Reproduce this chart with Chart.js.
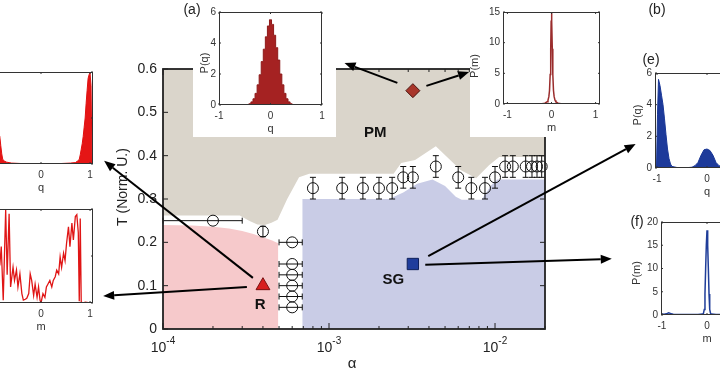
<!DOCTYPE html>
<html>
<head>
<meta charset="utf-8">
<script src="https://cdn.jsdelivr.net/npm/chart.js@4.4.1/dist/chart.umd.min.js"></script>
<style>
  html, body { margin: 0; padding: 0; background: #fff; }
  #wrap { position: relative; width: 720px; height: 372px; overflow: hidden; }
  canvas { position: absolute; }
</style>
</head>
<body>
<div id="wrap">
  <canvas id="main" width="720" height="372" style="left:0;top:0"></canvas>
  <canvas id="insetA" width="158" height="137" style="left:178px;top:0"></canvas>
  <canvas id="insetB" width="140" height="137" style="left:470px;top:0"></canvas>
  <canvas id="insetC" width="120" height="140" style="left:-20px;top:60px"></canvas>
  <canvas id="insetD" width="120" height="145" style="left:-20px;top:195px"></canvas>
  <canvas id="insetE" width="145" height="155" style="left:620px;top:45px"></canvas>
  <canvas id="insetF" width="145" height="145" style="left:620px;top:205px"></canvas>
</div>
<script>
// ---- phase diagram: measured transition points ----
const alphaPts = [2e-4, 4e-4, 6e-4, 6e-4, 6e-4, 6e-4, 6e-4, 6e-4,
  8e-4, 1.2e-3, 1.6e-3, 2e-3, 2.4e-3, 2.8e-3, 3.2e-3, 4.4e-3, 6e-3, 7.2e-3, 8.7e-3,
  1e-2, 1.15e-2, 1.28e-2, 1.53e-2, 1.67e-2, 1.79e-2, 1.91e-2];
const tPts = [0.25, 0.225, 0.2, 0.15, 0.125, 0.1, 0.075, 0.05,
  0.325, 0.325, 0.325, 0.325, 0.325, 0.35, 0.35, 0.375, 0.35, 0.325, 0.325,
  0.35, 0.375, 0.375, 0.375, 0.375, 0.375, 0.375];
const tErr = [0, 0.012, 0, 0, 0, 0, 0, 0,
  0.025, 0.025, 0.025, 0.025, 0.025, 0.025, 0.025, 0.025, 0.025, 0.025, 0.025,
  0.025, 0.025, 0.025, 0.025, 0.025, 0.025, 0.025];
const alphaLo = [1e-4, null, 5e-4, 5e-4, 5e-4, 5e-4, 5e-4, 5e-4,
  null, null, null, null, null, null, null, null, null, null, null,
  null, null, null, null, null, null, null];
const alphaHi = [3e-4, null, 6.9e-4, 6.9e-4, 6.9e-4, 6.9e-4, 6.9e-4, 6.9e-4,
  null, null, null, null, null, null, null, null, null, null, null,
  null, null, null, null, null, null, null];

// phase regions
const pmAlpha = [1e-4, 2.9e-4, 3.3e-4, 3.7e-4, 4.1e-4, 4.5e-4, 4.9e-4, 5.6e-4, 6.6e-4, 7.6e-4,
  2.45e-3, 2.72e-3, 3.3e-3, 4.4e-3, 6.2e-3, 7.7e-3, 9.2e-3, 1.06e-2, 2e-2];
const pmT = [0.262, 0.262, 0.25, 0.241, 0.24, 0.245, 0.252, 0.30, 0.35, 0.358,
  0.358, 0.383, 0.39, 0.422, 0.367, 0.348, 0.378, 0.397, 0.397];
const rAlpha = [1e-4, 1.5e-4, 2e-4, 2.5e-4, 3e-4, 3.5e-4, 4e-4, 4.5e-4, 4.95e-4, 4.95e-4];
const rT = [0.24, 0.239, 0.236, 0.232, 0.226, 0.219, 0.212, 0.205, 0.198, 0];
const sgAlpha = [6.9e-4, 6.9e-4, 2.3e-3, 2.8e-3, 3.4e-3, 4.2e-3, 5.0e-3, 5.8e-3, 6.3e-3, 8.3e-3, 9.4e-3, 1.03e-2, 2e-2];
const sgT = [0, 0.3, 0.3, 0.315, 0.335, 0.345, 0.33, 0.305, 0.298, 0.298, 0.33, 0.345, 0.345];

// the three state markers
const pmState = [3.2e-3, 0.55];
const rState = [4e-4, 0.1];
const sgState = [3.2e-3, 0.15];

// axis ticks
const yTicks = [0, 0.1, 0.2, 0.3, 0.4, 0.5, 0.6];
const yTickLabels = ['0', '0.1', '0.2', '0.3', '0.4', '0.5', '0.6'];
const xMajor = [1e-4, 1e-3, 1e-2];
const xMajorExp = ['-4', '-3', '-2'];
const xMinor = [2e-4, 3e-4, 4e-4, 5e-4, 6e-4, 7e-4, 8e-4, 9e-4,
  2e-3, 3e-3, 4e-3, 5e-3, 6e-3, 7e-3, 8e-3, 9e-3, 2e-2];

// ---- inset distributions ----
const aQ = [-1, -0.48, -0.44, -0.40, -0.36, -0.32, -0.28, -0.24, -0.20, -0.16, -0.12, -0.08, -0.04, 0,
  0.04, 0.08, 0.12, 0.16, 0.20, 0.24, 0.28, 0.32, 0.36, 0.40, 0.44, 0.48, 1];
const aP = [0, 0, 0.03, 0.08, 0.2, 0.4, 0.75, 1.3, 1.95, 2.8, 3.6, 4.4, 5.1, 5.5,
  5.2, 4.5, 3.7, 2.9, 2.0, 1.3, 0.75, 0.4, 0.2, 0.08, 0.03, 0, 0];

const bM = [-1.1, -0.5, -0.3, -0.2, -0.15, -0.1, -0.08, -0.06, -0.045, -0.03, -0.018, -0.008, 0,
  0.008, 0.018, 0.03, 0.045, 0.06, 0.08, 0.1, 0.15, 0.2, 0.3, 0.5, 1.1];
const bP = [0.02, 0.03, 0.05, 0.08, 0.14, 0.35, 0.6, 1.2, 2.2, 4.8, 9, 13.5, 15.5,
  13.5, 9, 4.8, 2.2, 1.2, 0.6, 0.35, 0.14, 0.08, 0.05, 0.03, 0.02];

const cQ = [-1.06, -1.04, -1.02, -1.0, -0.98, -0.96, -0.94, -0.92, -0.90, -0.88, -0.86, -0.84, -0.82, -0.80,
  -0.78, -0.74, -0.70, -0.60, -0.40, 0, 0.40, 0.60, 0.70, 0.74, 0.78, 0.80, 0.82, 0.84, 0.86, 0.88,
  0.90, 0.92, 0.94, 0.96, 0.98, 1.0, 1.02, 1.04, 1.06];
const cP = [0, 0.02, 0.7, 0.98, 0.96, 0.86, 0.74, 0.62, 0.5, 0.4, 0.32, 0.3, 0.2, 0.11,
  0.05, 0.03, 0.02, 0.01, 0.005, 0.005, 0.005, 0.01, 0.015, 0.03, 0.05, 0.1, 0.16, 0.22, 0.3, 0.4,
  0.5, 0.66, 0.8, 0.93, 0.97, 0.99, 0.85, 0, 0];

const dM = [-1.06, -1.0, -0.96, -0.92, -0.88, -0.84, -0.81, -0.77, -0.72, -0.69, -0.65, -0.62, -0.57, -0.54, -0.5,
  -0.47, -0.43, -0.39, -0.36, -0.32, -0.29, -0.25, -0.22, -0.19, -0.15, -0.12, -0.08, -0.05, -0.02, 0,
  0.04, 0.08, 0.11, 0.14, 0.18, 0.22, 0.25, 0.29, 0.32, 0.36, 0.39, 0.42, 0.46, 0.49, 0.52,
  0.56, 0.59, 0.63, 0.66, 0.7, 0.73, 0.76, 0.78, 0.8, 0.82, 0.86, 0.9, 1.0, 1.06];
const dP = [0, 0.1, 0.6, 0.2, 0.7, 0.4, 0.6, 0.03, 0.99, 0.3, 0.95, 0.17, 0.38, 0.24, 0.35,
  0.17, 0.31, 0.1, 0.03, 0.04, 0.05, 0.1, 0.31, 0.24, 0.08, 0.2, 0.06, 0.17, 0.03, 0,
  0.1, 0.06, 0.17, 0.2, 0.24, 0.17, 0.24, 0.28, 0.35, 0.31, 0.49, 0.38, 0.53, 0.45, 0.63,
  0.81, 0.6, 0.85, 0.67, 0.92, 0.94, 0.75, 0.02, 0.9, 0.01, 0, 0.01, 0, 0];

const eQ = [-1.04, -1.01, -0.99, -0.97, -0.94, -0.91, -0.88, -0.85, -0.82, -0.79, -0.76, -0.73, -0.70, -0.6, -0.4,
  -0.3, -0.24, -0.18, -0.12, -0.06, 0, 0.06, 0.12, 0.18, 0.24, 0.3,
  0.4, 0.6, 0.7, 0.73, 0.76, 0.79, 0.82, 0.85, 0.88, 0.91, 0.94, 0.97, 0.99, 1.01, 1.04];
const eP = [0, 0, 3.4, 5.6, 5.2, 4.6, 4.0, 3.1, 2.1, 1.2, 0.6, 0.25, 0.1, 0.03, 0.02,
  0.05, 0.15, 0.35, 0.8, 1.15, 1.2, 1.1, 0.8, 0.35, 0.15, 0.05,
  0.02, 0.03, 0.1, 0.25, 0.6, 1.2, 2.1, 3.1, 4.0, 4.6, 5.2, 5.6, 3.4, 0, 0];

const fM = [-1.02, -0.95, -0.9, -0.85, -0.8, -0.75, -0.6, -0.4, -0.2, -0.1, -0.08, -0.06, -0.045, -0.03, -0.015, 0,
  0.015, 0.03, 0.045, 0.06, 0.08, 0.1, 0.2, 0.4, 0.6, 0.75, 0.8, 0.85, 0.9, 0.95, 1.02];
const fP = [0.2, 0.15, 0.25, 0.45, 0.3, 0.15, 0.1, 0.1, 0.12, 0.2, 0.3, 1.2, 4.5, 10, 15, 18.2,
  15, 10, 4.5, 1.2, 0.3, 0.2, 0.12, 0.1, 0.1, 0.15, 0.3, 0.45, 0.25, 0.15, 0.2];

const FONT = '"Liberation Sans", Arial, sans-serif';

// annotations on the phase diagram, in data coordinates (alpha, T)
const phaseLabels = [
  { text: 'PM', at: [1.9e-3, 0.453] },
  { text: 'R', at: [3.85e-4, 0.055] },
  { text: 'SG', at: [2.44e-3, 0.113] }
];
const arrows = [
  { from: [2.58e-3, 0.568], to: [1.24e-3, 0.614] },
  { from: [3.86e-3, 0.561], to: [6.98e-3, 0.593] },
  { from: [3.48e-4, 0.118], to: [4.42e-5, 0.388] },
  { from: [3.2e-4, 0.097], to: [4.36e-5, 0.076] },
  { from: [3.96e-3, 0.168], to: [7.03e-2, 0.427] },
  { from: [3.8e-3, 0.148], to: [5.05e-2, 0.162] }
];

function pairs(xs, ys) {
  return xs.map((v, i) => ({ x: v, y: ys[i] }));
}

function drawArrow(ctx, x1, y1, x2, y2) {
  const ang = Math.atan2(y2 - y1, x2 - x1);
  const len = 11, hw = 4.5;
  const bx = x2 - Math.cos(ang) * len, by = y2 - Math.sin(ang) * len;
  ctx.beginPath();
  ctx.moveTo(x1, y1);
  ctx.lineTo(bx, by);
  ctx.stroke();
  ctx.beginPath();
  ctx.moveTo(x2, y2);
  ctx.lineTo(bx + Math.sin(ang) * hw, by - Math.cos(ang) * hw);
  ctx.lineTo(bx - Math.sin(ang) * hw, by + Math.cos(ang) * hw);
  ctx.closePath();
  ctx.fill();
}

const phasePlugin = {
  id: 'phaseAxes',
  afterDatasetsDraw(chart) {
    const { ctx, scales: { x, y } } = chart;
    ctx.save();
    ctx.strokeStyle = '#111';
    ctx.lineWidth = 1;
    alphaPts.forEach((a, i) => {
      const px = x.getPixelForValue(a), py = y.getPixelForValue(tPts[i]);
      ctx.beginPath();
      if (tErr[i]) {
        const y1 = y.getPixelForValue(tPts[i] - tErr[i]);
        const y2 = y.getPixelForValue(tPts[i] + tErr[i]);
        ctx.moveTo(px, y1); ctx.lineTo(px, y2);
        ctx.moveTo(px - 3, y1); ctx.lineTo(px + 3, y1);
        ctx.moveTo(px - 3, y2); ctx.lineTo(px + 3, y2);
      }
      if (alphaLo[i] !== null) {
        const x1 = x.getPixelForValue(alphaLo[i]);
        const x2 = x.getPixelForValue(alphaHi[i]);
        ctx.moveTo(x1, py); ctx.lineTo(x2, py);
        ctx.moveTo(x1, py - 3); ctx.lineTo(x1, py + 3);
        ctx.moveTo(x2, py - 3); ctx.lineTo(x2, py + 3);
      }
      ctx.stroke();
    });
    ctx.restore();
  },
  afterDraw(chart) {
    const { ctx, chartArea: a, scales: { x, y } } = chart;
    ctx.save();
    // box
    ctx.strokeStyle = '#222';
    ctx.lineWidth = 1.8;
    ctx.strokeRect(a.left, a.top, a.right - a.left, a.bottom - a.top);
    // ticks, inward on all sides
    ctx.lineWidth = 1;
    ctx.beginPath();
    yTicks.forEach(v => {
      const py = y.getPixelForValue(v);
      ctx.moveTo(a.left, py); ctx.lineTo(a.left + 5, py);
      ctx.moveTo(a.right, py); ctx.lineTo(a.right - 5, py);
    });
    xMajor.forEach(v => {
      const px = x.getPixelForValue(v);
      ctx.moveTo(px, a.bottom); ctx.lineTo(px, a.bottom - 6);
      ctx.moveTo(px, a.top); ctx.lineTo(px, a.top + 6);
    });
    xMinor.forEach(v => {
      const px = x.getPixelForValue(v);
      ctx.moveTo(px, a.bottom); ctx.lineTo(px, a.bottom - 3);
      ctx.moveTo(px, a.top); ctx.lineTo(px, a.top + 3);
    });
    ctx.stroke();

    // tick labels
    ctx.fillStyle = '#222';
    ctx.font = '14px ' + FONT;
    ctx.textAlign = 'right';
    ctx.textBaseline = 'middle';
    yTicks.forEach((v, i) => ctx.fillText(yTickLabels[i], a.left - 6, y.getPixelForValue(v)));
    ctx.textAlign = 'left';
    ctx.textBaseline = 'alphabetic';
    xMajor.forEach((v, i) => {
      const px = x.getPixelForValue(v);
      ctx.font = '14px ' + FONT;
      const w1 = ctx.measureText('10').width;
      ctx.font = '10px ' + FONT;
      const w2 = ctx.measureText(xMajorExp[i]).width;
      const sx = px - (w1 + w2) / 2;
      ctx.font = '14px ' + FONT;
      ctx.fillText('10', sx, a.bottom + 23);
      ctx.font = '10px ' + FONT;
      ctx.fillText(xMajorExp[i], sx + w1, a.bottom + 15);
    });

    // axis titles
    ctx.textAlign = 'center';
    ctx.textBaseline = 'middle';
    ctx.font = '15px ' + FONT;
    ctx.fillText('\u03b1', (a.left + a.right) / 2 - 2, a.bottom + 35);
    ctx.save();
    ctx.translate(a.left - 40, 187);
    ctx.rotate(-Math.PI / 2);
    ctx.font = '14px ' + FONT;
    ctx.fillText('T (Norm. U.)', 0, 0);
    ctx.restore();

    // phase names
    ctx.font = 'bold 15px ' + FONT;
    ctx.fillStyle = '#111';
    phaseLabels.forEach(l => ctx.fillText(l.text, x.getPixelForValue(l.at[0]), y.getPixelForValue(l.at[1])));

    // panel letter of the off-screen panel
    ctx.font = '14px ' + FONT;
    ctx.fillStyle = '#222';
    ctx.fillText('(b)', 657, 10);

    // arrows to the insets
    ctx.strokeStyle = '#000';
    ctx.fillStyle = '#000';
    ctx.lineWidth = 2;
    arrows.forEach(ar => drawArrow(ctx,
      x.getPixelForValue(ar.from[0]), y.getPixelForValue(ar.from[1]),
      x.getPixelForValue(ar.to[0]), y.getPixelForValue(ar.to[1])));
    ctx.restore();
  }
};

new Chart(document.getElementById('main'), {
  type: 'line',
  data: {
    datasets: [
      { data: pairs(pmAlpha, pmT), fill: 'end', backgroundColor: '#dad5cb', borderWidth: 0, borderColor: 'rgba(0,0,0,0)', pointRadius: 0, order: 3 },
      { data: pairs(rAlpha, rT), fill: 'origin', backgroundColor: '#f6c9cb', borderWidth: 0, borderColor: 'rgba(0,0,0,0)', pointRadius: 0, order: 3 },
      { data: pairs(sgAlpha, sgT), fill: 'origin', backgroundColor: '#c9cce6', borderWidth: 0, borderColor: 'rgba(0,0,0,0)', pointRadius: 0, order: 3 },
      { data: pairs(alphaPts, tPts), showLine: false, pointStyle: 'circle', pointRadius: 5.5, pointBorderWidth: 1,
        pointBorderColor: '#111', pointBackgroundColor: 'rgba(0,0,0,0)', clip: false, order: 1 },
      { data: [{ x: pmState[0], y: pmState[1] }], showLine: false, pointStyle: 'rectRot', pointRadius: 7,
        pointBackgroundColor: '#a8362b', pointBorderColor: '#4a1510', pointBorderWidth: 1, order: 0 },
      { data: [{ x: rState[0], y: rState[1] }], showLine: false, pointStyle: 'triangle', pointRadius: 8,
        pointBackgroundColor: '#d81f1f', pointBorderColor: '#7a1010', pointBorderWidth: 1, order: 0 },
      { data: [{ x: sgState[0], y: sgState[1] }], showLine: false, pointStyle: 'rect', pointRadius: 8,
        pointBackgroundColor: '#1f3d9c', pointBorderColor: '#0d1f5a', pointBorderWidth: 1, order: 0 }
    ]
  },
  options: {
    responsive: false,
    animation: false,
    layout: { padding: { left: 163, top: 69, right: 175, bottom: 43 } },
    plugins: { legend: { display: false }, tooltip: { enabled: false } },
    scales: {
      x: { type: 'logarithmic', min: 1e-4, max: 2e-2, display: false },
      y: { type: 'linear', min: 0, max: 0.6, display: false }
    }
  },
  plugins: [phasePlugin]
});

function insetAxes(o) {
  return {
    id: 'insetAxes',
    beforeDraw(chart) {
      if (!o.bg) return;
      const ctx = chart.ctx;
      ctx.save();
      ctx.fillStyle = '#fff';
      ctx.fillRect(o.bgX || 0, 0, chart.width, chart.height);
      ctx.restore();
    },
    afterDraw(chart) {
      const { ctx, chartArea: a, scales: { x, y } } = chart;
      ctx.save();
      ctx.strokeStyle = '#333';
      ctx.lineWidth = 1;
      ctx.strokeRect(a.left + 0.5, a.top + 0.5, a.right - a.left - 1, a.bottom - a.top - 1);
      ctx.beginPath();
      o.xTicks.forEach(v => {
        const px = x.getPixelForValue(v);
        ctx.moveTo(px, a.bottom); ctx.lineTo(px, a.bottom - 2);
        ctx.moveTo(px, a.top); ctx.lineTo(px, a.top + 2);
      });
      o.yTicks.forEach(v => {
        const py = y.getPixelForValue(v);
        ctx.moveTo(a.left, py); ctx.lineTo(a.left + 2, py);
        ctx.moveTo(a.right, py); ctx.lineTo(a.right - 2, py);
      });
      ctx.stroke();

      ctx.fillStyle = '#333';
      ctx.font = '10px ' + FONT;
      ctx.textAlign = 'center';
      ctx.textBaseline = 'middle';
      o.xTicks.forEach(v => ctx.fillText(String(v), x.getPixelForValue(v), a.bottom + 11));
      ctx.font = '11px ' + FONT;
      ctx.fillText(o.xLabel, (a.left + a.right) / 2, a.bottom + 24);
      if (o.yLabels) {
        ctx.font = '10px ' + FONT;
        ctx.textAlign = 'right';
        o.yTicks.forEach(v => ctx.fillText(String(v), a.left - 3, y.getPixelForValue(v)));
        ctx.save();
        ctx.translate(a.left - o.yLabelOff, o.yLabelY);
        ctx.rotate(-Math.PI / 2);
        ctx.textAlign = 'center';
        ctx.font = '11px ' + FONT;
        ctx.fillText(o.yLabel, 0, 0);
        ctx.restore();
      }
      if (o.letter) {
        ctx.font = '14px ' + FONT;
        ctx.textAlign = 'center';
        ctx.fillStyle = '#222';
        ctx.fillText(o.letter, o.letterAt[0], o.letterAt[1]);
      }
      ctx.restore();
    }
  };
}

function makeInset(id, xs, ys, o) {
  new Chart(document.getElementById(id), {
    type: 'line',
    data: {
      datasets: [{
        data: pairs(xs, ys),
        borderColor: o.color,
        backgroundColor: o.fillColor || 'rgba(0,0,0,0)',
        fill: o.fillColor ? 'origin' : false,
        borderWidth: o.lw,
        pointRadius: 0,
        stepped: o.stepped || false,
        tension: 0
      }]
    },
    options: {
      responsive: false,
      animation: false,
      layout: { padding: o.pad },
      plugins: { legend: { display: false }, tooltip: { enabled: false } },
      scales: {
        x: { type: 'linear', min: o.xMin, max: o.xMax, display: false },
        y: { type: 'linear', min: 0, max: o.yMax, display: false }
      }
    },
    plugins: [insetAxes(o)]
  });
}

makeInset('insetA', aQ, aP, {
  pad: { left: 41, top: 12, right: 14, bottom: 32 }, bg: true, bgX: 15,
  xMin: -1, xMax: 1, yMax: 6, xTicks: [-1, 0, 1], yTicks: [0, 2, 4, 6], yLabels: true,
  xLabel: 'q', yLabel: 'P(q)', yLabelOff: 14, yLabelY: 63,
  color: '#8e1a1a', fillColor: '#a52222', lw: 1, stepped: 'middle',
  letter: '(a)', letterAt: [14, 10]
});
makeInset('insetB', bM, bP, {
  pad: { left: 33, top: 12, right: 10, bottom: 33 }, bg: true,
  xMin: -1.1, xMax: 1.1, yMax: 15, xTicks: [-1, 0, 1], yTicks: [0, 5, 10, 15], yLabels: true,
  xLabel: 'm', yLabel: 'P(m)', yLabelOff: 28, yLabelY: 66,
  color: '#9a2c2c', lw: 1.5
});
makeInset('insetC', cQ, cP, {
  pad: { left: 9, top: 12, right: 7, bottom: 36 },
  xMin: -1.06, xMax: 1.06, yMax: 1, xTicks: [-1, 0, 1], yTicks: [0, 0.5, 1],
  xLabel: 'q', color: '#e01010', fillColor: '#e51515', lw: 1
});
makeInset('insetD', dM, dP, {
  pad: { left: 9, top: 14, right: 7, bottom: 37 },
  xMin: -1.06, xMax: 1.06, yMax: 1, xTicks: [-1, 0, 1], yTicks: [0, 0.5, 1],
  xLabel: 'm', color: '#e01515', lw: 1.3
});
makeInset('insetE', eQ, eP, {
  pad: { left: 35, top: 28, right: 6, bottom: 32 },
  xMin: -1.04, xMax: 1.04, yMax: 6, xTicks: [-1, 0, 1], yTicks: [0, 2, 4, 6], yLabels: true,
  xLabel: 'q', yLabel: 'P(q)', yLabelOff: 17, yLabelY: 70,
  color: '#1a3796', fillColor: '#1d3a9a', lw: 1, letter: '(e)', letterAt: [31, 15]
});
makeInset('insetF', fM, fP, {
  pad: { left: 41, top: 17, right: 12, bottom: 35 },
  xMin: -1.02, xMax: 1.02, yMax: 20, xTicks: [-1, 0, 1], yTicks: [0, 5, 10, 15, 20], yLabels: true,
  xLabel: 'm', yLabel: 'P(m)', yLabelOff: 24, yLabelY: 68,
  color: '#1f3d99', lw: 1.5, letter: '(f)', letterAt: [17, 17]
});
</script>
</body>
</html>
